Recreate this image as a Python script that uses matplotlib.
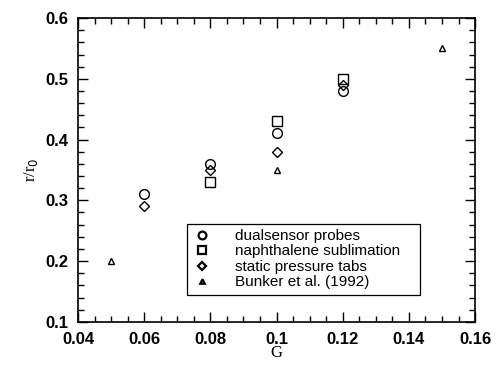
import numpy as np
import matplotlib.pyplot as plt
from matplotlib.ticker import MultipleLocator

# data
g_probe = [0.06, 0.08, 0.10, 0.12]
r_probe = [0.31, 0.36, 0.41, 0.48]
g_naph = [0.08, 0.10, 0.12]
r_naph = [0.33, 0.43, 0.50]
g_tabs = [0.06, 0.08, 0.10, 0.12]
r_tabs = [0.29, 0.35, 0.38, 0.49]
g_bunker = [0.05, 0.10, 0.15]
r_bunker = [0.20, 0.35, 0.55]

xticks = [0.04, 0.06, 0.08, 0.10, 0.12, 0.14, 0.16]
xlabels = ['0.04', '0.06', '0.08', '0.1', '0.12', '0.14', '0.16']
yticks = [0.1, 0.2, 0.3, 0.4, 0.5, 0.6]
ylabels = ['0.1', '0.2', '0.3', '0.4', '0.5', '0.6']

plt.rcParams['font.family'] = ['Liberation Sans', 'DejaVu Sans']

fig = plt.figure(figsize=(4.97, 3.76), dpi=100)
ax = fig.add_axes([0.157, 0.144, 0.799, 0.808])

ax.plot(g_probe, r_probe, 'o', mfc='none', mec='k', ms=7, mew=1.0,
        label='dualsensor probes')
ax.plot(g_naph, r_naph, 's', mfc='none', mec='k', ms=7, mew=1.0,
        label='naphthalene sublimation')
ax.plot(g_tabs, r_tabs, 'D', mfc='none', mec='k', ms=5, mew=1.0,
        label='static pressure tabs')
ax.plot(g_bunker, r_bunker, '^', mfc='none', mec='k', ms=4, mew=1.0,
        label='Bunker et al. (1992)')

ax.set_xticks(xticks, xlabels, fontweight='bold')
ax.set_yticks(yticks, ylabels, fontweight='bold')
ax.xaxis.set_minor_locator(MultipleLocator(0.005))
ax.yaxis.set_minor_locator(MultipleLocator(0.02))
ax.set_xlim(0.04, 0.16)
ax.set_ylim(0.1, 0.6)
ax.tick_params(which='both', direction='in', top=True, right=True,
               labelsize=12, width=1.0)
ax.tick_params(which='major', length=7, pad=7)
ax.tick_params(which='minor', length=4)
for s in ax.spines.values():
    s.set_linewidth(1.2)

ax.set_xlabel('G', family='Liberation Serif', fontsize=12, labelpad=-1)
ax.set_ylabel(r'r/r$_0$', family='Liberation Serif', fontsize=12, labelpad=4)

leg = ax.legend(loc='lower left', bbox_to_anchor=(0.275, 0.089, 0.587, 0.263),
                mode='expand', borderaxespad=0, fancybox=False, framealpha=1,
                edgecolor='k', fontsize=11, handletextpad=1.6, borderpad=0.35,
                labelspacing=0.1, handlelength=1.2, markerscale=0.8)
leg.get_frame().set_linewidth(0.9)
for h in leg.legend_handles:
    h.set_markeredgewidth(1.6)

fig.savefig('out.png', dpi=100)
